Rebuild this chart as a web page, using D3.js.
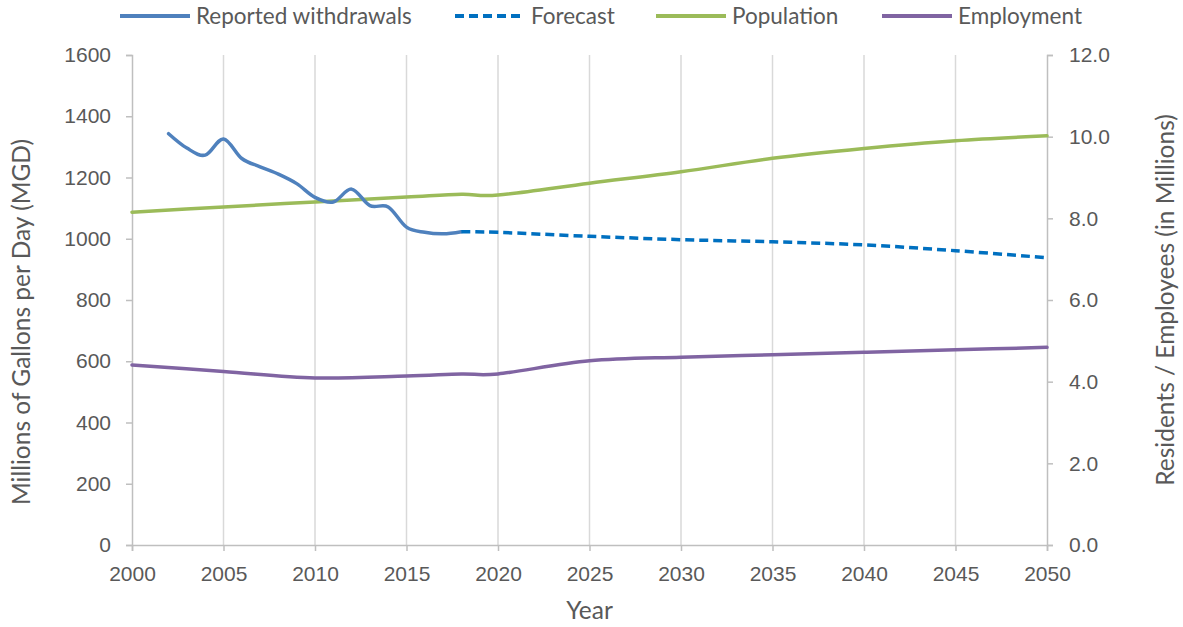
<!DOCTYPE html>
<html>
<head>
<meta charset="utf-8">
<script src="https://cdn.jsdelivr.net/npm/d3@7"></script>
<style>
  html, body { margin: 0; padding: 0; background: #fff; }
  svg { display: block; font-family: Lato, "Open Sans", sans-serif; }
</style>
</head>
<body>
<svg id="chart" width="1183" height="627"></svg>
<script>
// Reported withdrawals (MGD)
const withdrawYears = [2002, 2003, 2004, 2005, 2006, 2007, 2008, 2009, 2010, 2011, 2012, 2013, 2014, 2015, 2016, 2017, 2018];
const withdrawals   = [1343, 1296, 1273, 1326, 1262, 1235, 1211, 1180, 1135, 1120, 1162, 1108, 1104, 1038, 1021, 1016, 1023];

// Forecast withdrawals (MGD)
const forecastYears = [2018, 2020, 2025, 2030, 2035, 2040, 2045, 2050];
const forecast      = [1023, 1021, 1008, 997, 990, 980, 961, 938];

// Residents and employees (millions)
const demoYears  = [2000, 2005, 2010, 2015, 2018, 2020, 2025, 2030, 2035, 2040, 2045, 2050];
const population = [8.15, 8.28, 8.40, 8.52, 8.59, 8.57, 8.86, 9.14, 9.47, 9.71, 9.90, 10.02];
const employment = [4.41, 4.25, 4.09, 4.14, 4.19, 4.19, 4.51, 4.60, 4.66, 4.72, 4.78, 4.84];

// Axis ticks
const yearTicks  = [2000, 2005, 2010, 2015, 2020, 2025, 2030, 2035, 2040, 2045, 2050];
const mgdTicks   = [0, 200, 400, 600, 800, 1000, 1200, 1400, 1600];
const peopleTicks = [0, 2, 4, 6, 8, 10, 12];

const legendItems = [
  { label: "Reported withdrawals", color: "#4f81bd", dash: null },
  { label: "Forecast",             color: "#0070c0", dash: "9,5" },
  { label: "Population",           color: "#9bbb59", dash: null },
  { label: "Employment",           color: "#8064a2", dash: null }
];

const svg = d3.select("#chart");
const W = 1183, H = 627;
const m = { top: 55, right: 136, bottom: 82, left: 132 };

const x  = d3.scaleLinear().domain([2000, 2050]).range([m.left, W - m.right]);
const yL = d3.scaleLinear().domain([0, 1600]).range([H - m.bottom, m.top]);
const yR = d3.scaleLinear().domain([0, 12]).range([H - m.bottom, m.top]);

const textColor = "#595959";
const axisColor = "#bfbfbf";
const gridColor = "#d9d9d9";

// vertical gridlines
svg.append("g")
  .selectAll("line")
  .data(yearTicks.slice(1, -1))
  .join("line")
  .attr("x1", d => x(d)).attr("x2", d => x(d))
  .attr("y1", m.top).attr("y2", H - m.bottom)
  .attr("stroke", gridColor).attr("stroke-width", 1.5);

function styleAxis(g) {
  g.select(".domain").attr("stroke", axisColor).attr("stroke-width", 1.5);
  g.selectAll(".tick line").attr("stroke", axisColor).attr("stroke-width", 1.5);
  g.selectAll(".tick text").attr("fill", textColor).attr("font-size", 21);
}

svg.append("g")
  .attr("transform", `translate(0,${H - m.bottom})`)
  .call(d3.axisBottom(x).tickValues(yearTicks).tickFormat(d3.format("d")).tickSizeOuter(0).tickSize(6).tickPadding(15))
  .call(styleAxis);

svg.append("g")
  .attr("transform", `translate(${m.left},0)`)
  .call(d3.axisLeft(yL).tickValues(mgdTicks).tickFormat(d3.format("d")).tickSizeOuter(0).tickSize(6).tickPadding(15))
  .call(styleAxis);

svg.append("g")
  .attr("transform", `translate(${W - m.right},0)`)
  .call(d3.axisRight(yR).tickValues(peopleTicks).tickFormat(d3.format(".1f")).tickSizeOuter(0).tickSize(6).tickPadding(16))
  .call(styleAxis);

// axis titles
svg.append("text")
  .attr("transform", `translate(${(m.left + W - m.right) / 2},${H - 8})`)
  .attr("text-anchor", "middle").attr("fill", textColor).attr("font-size", 24.5)
  .text("Year");

svg.append("text")
  .attr("transform", `translate(30,322) rotate(-90)`)
  .attr("text-anchor", "middle").attr("fill", textColor).attr("font-size", 24.5)
  .text("Millions of Gallons per Day (MGD)");

svg.append("text")
  .attr("transform", `translate(1174,${(m.top + H - m.bottom) / 2}) rotate(-90)`)
  .attr("text-anchor", "middle").attr("fill", textColor).attr("font-size", 24.5)
  .text("Residents / Employees (in Millions)");

// series lines
const curve = d3.curveCardinal.tension(0);
function drawLine(years, values, yScale, color, dash) {
  const line = d3.line().x((d, i) => x(years[i])).y(d => yScale(d)).curve(curve);
  svg.append("path")
    .datum(values)
    .attr("d", line)
    .attr("fill", "none")
    .attr("stroke", color)
    .attr("stroke-width", 3.5)
    .attr("stroke-linejoin", "round")
    .attr("stroke-linecap", dash ? "butt" : "round")
    .attr("stroke-dasharray", dash);
}

drawLine(demoYears, population, yR, legendItems[2].color, null);
drawLine(demoYears, employment, yR, legendItems[3].color, null);
drawLine(withdrawYears, withdrawals, yL, legendItems[0].color, null);
drawLine(forecastYears, forecast, yL, legendItems[1].color, legendItems[1].dash);

// legend
const legendX = [120, 455, 656, 882];
const lg = svg.append("g");
legendItems.forEach((it, i) => {
  const g = lg.append("g").attr("transform", `translate(${legendX[i]},16)`);
  g.append("line")
    .attr("x1", 0).attr("x2", 70).attr("y1", 0).attr("y2", 0)
    .attr("stroke", it.color).attr("stroke-width", 4)
    .attr("stroke-dasharray", it.dash);
  g.append("text")
    .attr("x", 76).attr("y", 0).attr("dy", "0.35em")
    .attr("fill", textColor).attr("font-size", 22.5)
    .text(it.label);
});
</script>
</body>
</html>
